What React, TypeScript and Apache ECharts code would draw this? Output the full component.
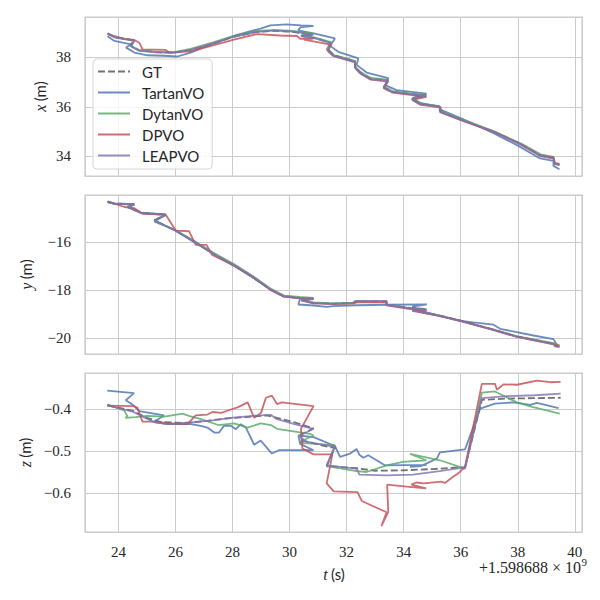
import React, { useEffect, useRef } from "react";
import * as echarts from "echarts";

const methodNames = ["GT", "TartanVO", "DytanVO", "DPVO", "LEAPVO"];
const methodColors = [
  "rgba(60,60,60,0.72)",
  "rgba(76,114,176,0.82)",
  "rgba(85,168,104,0.82)",
  "rgba(196,78,82,0.82)",
  "rgba(129,114,179,0.82)",
];

// ---- x (m) vs t ----
const gtX = [[23.62,38.98],[23.85,38.84],[24.2,38.76],[24.55,38.7],[24.42,38.5],[24.7,38.3],[25.3,38.22],[25.95,38.2],[26.5,38.3],[27.3,38.55],[28.0,38.83],[28.8,39.03],[29.4,39.08],[30.1,39.04],[30.8,38.92],[30.4,38.88],[30.9,38.78],[31.45,38.6],[31.35,38.32],[31.55,38.1],[32.3,37.85],[32.3,37.62],[32.5,37.38],[32.85,37.15],[33.45,37.08],[33.3,36.8],[33.6,36.62],[34.3,36.52],[34.78,36.46],[34.3,36.32],[34.6,36.12],[35.25,36.02],[35.27,35.82],[36.1,35.45],[37.15,35.0],[38.1,34.5],[38.8,34.03],[39.25,33.92],[39.3,33.7],[39.46,33.66]];
const tartanX = [[23.62,38.86],[23.86,38.67],[24.15,38.6],[24.44,38.53],[24.27,38.4],[24.56,38.2],[25.02,38.09],[25.6,38.07],[26.07,38.04],[26.53,38.2],[27.35,38.58],[28.16,38.92],[28.98,39.17],[29.33,39.3],[29.9,39.34],[30.4,39.3],[30.84,39.28],[30.38,39.22],[30.3,39.1],[30.85,38.98],[31.59,38.77],[31.42,38.47],[31.71,38.23],[32.41,37.96],[32.35,37.7],[32.7,37.39],[33.46,37.16],[33.35,36.88],[33.75,36.68],[34.8,36.54],[34.3,36.35],[34.6,36.15],[35.27,36.0],[35.27,35.9],[36.09,35.5],[37.15,34.93],[38.02,34.42],[38.78,33.91],[39.25,33.81],[39.25,33.61],[39.46,33.47]];
const dytanX = [[23.62,38.95],[23.86,38.82],[24.3,38.74],[24.56,38.69],[24.44,38.47],[24.73,38.29],[25.3,38.24],[25.95,38.22],[26.53,38.35],[27.35,38.62],[28.05,38.88],[28.86,39.08],[29.5,39.12],[30.1,39.08],[30.84,38.97],[30.4,38.9],[30.9,38.8],[31.45,38.62],[31.35,38.34],[31.55,38.1],[32.3,37.86],[32.3,37.63],[32.5,37.4],[32.85,37.17],[33.45,37.1],[33.3,36.82],[33.6,36.64],[34.3,36.54],[34.8,36.48],[34.3,36.34],[34.6,36.14],[35.25,36.03],[35.27,35.84],[36.1,35.47],[37.15,35.02],[38.1,34.52],[38.8,34.08],[39.25,33.97],[39.3,33.72],[39.46,33.64]];
const dpvoX = [[23.62,38.95],[24.2,38.75],[24.56,38.71],[24.73,38.6],[24.85,38.33],[25.66,38.31],[25.78,38.2],[26.53,38.25],[27.35,38.5],[28.05,38.72],[28.86,38.95],[29.67,38.89],[30.26,38.87],[30.37,38.76],[30.84,38.76],[30.5,38.72],[31.45,38.52],[31.35,38.25],[31.55,38.05],[32.3,37.8],[32.3,37.58],[32.5,37.34],[32.85,37.1],[33.45,37.02],[33.3,36.76],[33.6,36.58],[34.3,36.48],[34.8,36.4],[34.3,36.28],[34.6,36.08],[35.3,35.98],[35.3,35.78],[36.1,35.42],[37.15,35.0],[38.1,34.48],[38.8,34.02],[39.25,33.95],[39.3,33.72],[39.46,33.7]];
const leapX = [[23.63,38.97],[23.86,38.82],[24.2,38.74],[24.56,38.67],[24.44,38.45],[24.73,38.27],[25.3,38.21],[25.95,38.19],[26.53,38.31],[27.35,38.57],[28.05,38.84],[28.86,39.04],[29.44,39.09],[30.14,39.05],[30.84,38.93],[30.4,38.87],[30.9,38.77],[31.42,38.58],[31.3,38.32],[31.53,38.07],[32.29,37.82],[32.29,37.6],[32.47,37.36],[32.82,37.12],[33.46,37.05],[33.29,36.78],[33.58,36.61],[34.28,36.51],[34.78,36.45],[34.28,36.31],[34.57,36.11],[35.27,36.01],[35.27,35.8],[36.09,35.43],[37.15,34.99],[38.08,34.49],[38.78,34.01],[39.25,33.9],[39.3,33.68],[39.46,33.64]];

// ---- y (m) vs t ----
const gtY = [[23.62,-14.32],[23.86,-14.39],[24.56,-14.42],[24.33,-14.53],[24.79,-14.77],[25.66,-14.85],[25.26,-15.09],[26.0,-15.5],[26.65,-15.97],[27.35,-16.49],[28.05,-16.95],[28.74,-17.47],[29.33,-17.96],[29.8,-18.24],[30.37,-18.31],[30.84,-18.34],[30.4,-18.4],[30.83,-18.52],[31.53,-18.55],[32.23,-18.52],[32.35,-18.46],[33.4,-18.46],[33.4,-18.6],[34.22,-18.73],[34.8,-18.78],[34.3,-18.8],[34.81,-18.94],[35.27,-19.05],[36.09,-19.29],[37.15,-19.64],[37.96,-19.92],[39.25,-20.22],[39.3,-20.3],[39.46,-20.34]];
const tartanY = [[23.62,-14.3],[23.86,-14.38],[24.56,-14.41],[24.33,-14.52],[24.79,-14.76],[25.66,-14.84],[25.26,-15.08],[26.0,-15.52],[26.65,-15.99],[27.35,-16.5],[28.05,-16.97],[28.74,-17.49],[29.33,-17.97],[29.8,-18.25],[30.37,-18.33],[30.31,-18.59],[30.84,-18.63],[31.3,-18.69],[31.53,-18.66],[32.35,-18.62],[33.4,-18.6],[34.81,-18.58],[34.3,-18.68],[34.81,-18.92],[35.27,-19.07],[36.09,-19.28],[36.44,-19.33],[37.15,-19.43],[37.38,-19.6],[38.55,-19.88],[39.25,-20.03],[39.37,-20.27]];
const dytanY = [[23.62,-14.33],[23.86,-14.4],[24.56,-14.43],[24.33,-14.54],[24.79,-14.78],[25.66,-14.86],[25.26,-15.14],[26.0,-15.49],[26.65,-15.94],[27.35,-16.45],[28.05,-16.9],[28.74,-17.42],[29.33,-17.92],[29.8,-18.22],[30.36,-18.27],[30.83,-18.31],[30.4,-18.38],[30.83,-18.5],[31.53,-18.54],[32.23,-18.51],[32.35,-18.46],[33.4,-18.47],[33.4,-18.6],[34.22,-18.74],[34.8,-18.79],[34.3,-18.81],[34.81,-18.95],[35.27,-19.05],[36.09,-19.3],[37.15,-19.63],[37.96,-19.91],[39.25,-20.2],[39.46,-20.28]];
const dpvoY = [[23.62,-14.32],[23.86,-14.39],[24.21,-14.53],[24.56,-14.58],[24.85,-14.81],[25.66,-14.85],[26.01,-15.51],[26.48,-15.54],[26.71,-16.11],[27.09,-16.11],[27.29,-16.53],[28.05,-16.97],[28.74,-17.47],[29.33,-17.98],[29.8,-18.26],[30.37,-18.33],[30.84,-18.36],[30.4,-18.42],[30.83,-18.54],[31.53,-18.57],[32.23,-18.55],[32.35,-18.5],[33.4,-18.5],[33.4,-18.63],[34.22,-18.78],[34.81,-18.82],[34.3,-18.85],[34.81,-18.97],[35.27,-19.06],[36.09,-19.3],[37.15,-19.65],[37.96,-19.93],[39.25,-20.24],[39.46,-20.32]];
const leapY = [[23.63,-14.32],[23.86,-14.4],[24.56,-14.43],[24.33,-14.54],[24.79,-14.78],[25.66,-14.86],[25.26,-15.1],[26.0,-15.51],[26.65,-15.98],[27.35,-16.5],[28.05,-16.96],[28.74,-17.48],[29.33,-17.97],[29.8,-18.25],[30.37,-18.32],[30.84,-18.35],[30.4,-18.41],[30.83,-18.53],[31.53,-18.56],[32.23,-18.52],[32.3,-18.44],[33.4,-18.44],[33.4,-18.6],[34.22,-18.75],[34.8,-18.8],[34.3,-18.82],[34.81,-18.96],[35.27,-19.07],[36.09,-19.31],[37.15,-19.66],[37.96,-19.94],[39.25,-20.25],[39.3,-20.33],[39.46,-20.36]];

// ---- z (m) vs t ----
const gtZ = [[23.62,-0.39],[24.5,-0.403],[25.0,-0.42],[25.5,-0.43],[26.3,-0.432],[27.0,-0.428],[27.7,-0.422],[28.5,-0.418],[29.2,-0.414],[29.56,-0.42],[30.14,-0.43],[30.84,-0.445],[30.38,-0.46],[30.5,-0.475],[31.4,-0.49],[31.6,-0.49],[31.3,-0.535],[32.35,-0.54],[33.0,-0.546],[34.0,-0.545],[35.0,-0.542],[35.95,-0.538],[36.15,-0.538],[36.74,-0.377],[37.6,-0.374],[38.5,-0.373],[39.5,-0.372]];
const tartanZ = [[23.61,-0.355],[24.55,-0.361],[24.26,-0.378],[24.49,-0.388],[24.73,-0.404],[25.6,-0.414],[25.25,-0.43],[25.72,-0.435],[26.54,-0.435],[26.89,-0.439],[27.12,-0.443],[27.36,-0.455],[27.53,-0.455],[27.7,-0.439],[27.94,-0.439],[28.12,-0.447],[28.29,-0.435],[28.47,-0.443],[28.76,-0.484],[28.99,-0.474],[29.38,-0.505],[29.62,-0.497],[30.14,-0.497],[30.84,-0.497],[30.37,-0.482],[30.31,-0.462],[30.84,-0.466],[31.59,-0.487],[31.77,-0.513],[32.12,-0.505],[32.35,-0.494],[32.45,-0.508],[32.58,-0.515],[32.76,-0.509],[33.34,-0.533],[34.8,-0.532],[34.22,-0.537],[34.6,-0.535],[35.16,-0.517],[35.27,-0.502],[36.15,-0.495],[36.68,-0.398],[37.2,-0.386],[37.85,-0.383],[38.44,-0.389],[38.67,-0.384],[39.43,-0.397]];
const dytanZ = [[23.61,-0.388],[24.2,-0.402],[24.32,-0.416],[24.25,-0.42],[24.6,-0.418],[25.0,-0.415],[25.6,-0.417],[26.25,-0.41],[26.5,-0.416],[26.9,-0.423],[27.5,-0.437],[28.06,-0.433],[28.53,-0.443],[28.99,-0.433],[29.35,-0.437],[29.56,-0.446],[30.14,-0.452],[30.72,-0.458],[30.84,-0.462],[30.37,-0.477],[30.5,-0.48],[31.59,-0.485],[31.3,-0.535],[32.35,-0.547],[32.7,-0.549],[33.4,-0.533],[33.98,-0.525],[34.79,-0.521],[34.22,-0.506],[35.27,-0.521],[36.15,-0.541],[36.74,-0.36],[37.2,-0.357],[37.97,-0.383],[38.5,-0.394],[39.47,-0.41]];
const dpvoZ = [[23.61,-0.391],[24.55,-0.392],[24.67,-0.396],[24.84,-0.429],[25.37,-0.429],[25.72,-0.433],[26.42,-0.435],[26.71,-0.414],[27.12,-0.412],[27.3,-0.406],[27.6,-0.408],[27.94,-0.4],[28.18,-0.395],[28.53,-0.383],[28.76,-0.42],[29.0,-0.408],[29.17,-0.372],[29.38,-0.367],[29.56,-0.387],[29.73,-0.383],[30.84,-0.392],[30.4,-0.446],[30.45,-0.493],[30.84,-0.507],[31.5,-0.507],[31.3,-0.576],[31.55,-0.595],[32.38,-0.597],[32.53,-0.618],[33.4,-0.645],[33.22,-0.678],[33.46,-0.644],[33.42,-0.579],[34.1,-0.584],[34.79,-0.588],[34.27,-0.579],[34.44,-0.574],[34.7,-0.576],[35.31,-0.572],[35.45,-0.575],[35.66,-0.564],[35.95,-0.55],[36.15,-0.537],[36.74,-0.339],[37.2,-0.339],[37.27,-0.353],[37.5,-0.34],[37.97,-0.341],[38.67,-0.331],[39.14,-0.335],[39.5,-0.334]];
const leapZ = [[23.61,-0.39],[24.5,-0.405],[25.25,-0.43],[25.72,-0.435],[26.54,-0.431],[27.3,-0.426],[27.94,-0.42],[28.7,-0.415],[29.35,-0.413],[29.56,-0.423],[30.14,-0.434],[30.84,-0.446],[30.37,-0.462],[30.45,-0.475],[31.0,-0.482],[31.59,-0.489],[31.3,-0.533],[32.35,-0.541],[32.45,-0.555],[33.4,-0.557],[34.33,-0.555],[35.26,-0.547],[35.95,-0.54],[36.15,-0.539],[36.74,-0.373],[37.62,-0.368],[38.6,-0.366],[39.5,-0.362]];

const panelData = [
  [gtX, tartanX, dytanX, dpvoX, leapX],
  [gtY, tartanY, dytanY, dpvoY, leapY],
  [gtZ, tartanZ, dytanZ, dpvoZ, leapZ],
];

const tRange = [22.83, 40.25];
const yRanges = [[33.2, 39.64], [-20.65, -14.03], [-0.692, -0.313]];
const yTickSteps = [2, 2, 0.1];
const yNames = ["x", "y", "z"];
const offsetMantissa = "+1.598688 \u00d7 10";
const offsetExponent = "9";

const gridTops = [17, 195, 373];
const gridH = 159;
const gridColor = "#cccccc";
const textColor = "#262626";

function fmtTick(v: number, step: number): string {
  const k = v / step;
  if (Math.abs(k - Math.round(k)) > 1e-6) return "";
  const r = Math.round(k) * step;
  const s = step < 1 ? r.toFixed(1) : String(Math.round(r));
  return s.replace("-", "\u2212");
}

export default function App() {
  const ref = useRef<HTMLDivElement>(null);
  useEffect(() => {
    if (!ref.current) return;
    const chart = echarts.init(ref.current, undefined, { renderer: "svg" });
    const grids = gridTops.map((top) => ({
      left: 85,
      right: 18,
      top,
      height: gridH,
      show: true,
      borderColor: gridColor,
      borderWidth: 1.25,
      backgroundColor: "transparent",
      containLabel: false,
    }));
    const xAxes = gridTops.map((_, i) => ({
      type: "value",
      gridIndex: i,
      min: tRange[0],
      max: tRange[1],
      minInterval: 2,
      maxInterval: 2,
      splitNumber: 8,
      axisLine: { show: false },
      axisTick: { show: false },
      splitLine: { show: true, lineStyle: { color: gridColor, width: 1 } },
      axisLabel: {
        show: i === 2,
        margin: 12,
        color: textColor,
        fontFamily: "Liberation Serif",
        fontSize: 15,
        formatter: (v: number) => fmtTick(v, 2),
      },
    }));
    const yAxes = gridTops.map((_, i) => ({
      type: "value",
      gridIndex: i,
      min: yRanges[i][0],
      max: yRanges[i][1],
      minInterval: yTickSteps[i],
      maxInterval: yTickSteps[i],
      splitNumber: 3,
      axisLine: { show: false },
      axisTick: { show: false },
      splitLine: { show: true, lineStyle: { color: gridColor, width: 1 } },
      axisLabel: {
        margin: 14,
        color: textColor,
        fontFamily: "Liberation Serif",
        fontSize: 15,
        formatter: (v: number) => fmtTick(v, yTickSteps[i]),
      },
    }));
    const series: any[] = [];
    panelData.forEach((sets, p) => {
      sets.forEach((data, m) => {
        series.push({
          type: "line",
          name: methodNames[m],
          xAxisIndex: p,
          yAxisIndex: p,
          data,
          symbol: "none",
          showSymbol: false,
          silent: true,
          lineStyle: {
            color: methodColors[m],
            width: 1.8,
            type: m === 0 ? [7, 3] : "solid",
          },
          itemStyle: { color: methodColors[m] },
          emphasis: { disabled: true },
        });
      });
    });
    const yLabelPos = [
      [40, gridTops[0] + gridH / 2],
      [26, gridTops[1] + gridH / 2],
      [25, gridTops[2] + gridH / 2],
    ];
    const graphics: any[] = yNames.map((n, i) => ({
      type: "text",
      x: yLabelPos[i][0],
      y: yLabelPos[i][1],
      rotation: Math.PI / 2,
      style: {
        text: `{i|${n}} {s|(m)}`,
        align: "center",
        verticalAlign: "middle",
        rich: {
          i: { fontFamily: "Liberation Serif", fontStyle: "italic", fontSize: 16, fill: textColor },
          s: { fontFamily: "Lato", fontSize: 15, fill: textColor },
        },
      },
    }));
    graphics.push({
      type: "text",
      x: 334,
      y: 574,
      style: {
        text: "{i|t} {s|(s)}",
        align: "center",
        verticalAlign: "middle",
        rich: {
          i: { fontFamily: "Liberation Serif", fontStyle: "italic", fontSize: 16, fill: textColor },
          s: { fontFamily: "Lato", fontSize: 15, fill: textColor },
        },
      },
    });
    graphics.push({
      type: "text",
      x: 581,
      y: 567,
      style: {
        text: offsetMantissa,
        align: "right",
        verticalAlign: "middle",
        fontFamily: "Liberation Serif",
        fontSize: 16,
        fill: textColor,
      },
    });
    graphics.push({
      type: "text",
      x: 581.5,
      y: 562,
      style: {
        text: offsetExponent,
        align: "left",
        verticalAlign: "middle",
        fontFamily: "Liberation Serif",
        fontSize: 11,
        fill: textColor,
      },
    });
    chart.setOption({
      animation: false,
      backgroundColor: "#ffffff",
      grid: grids,
      xAxis: xAxes,
      yAxis: yAxes,
      legend: {
        data: methodNames,
        orient: "vertical",
        left: 93,
        top: 59,
        padding: [5, 8, 6, 4],
        itemGap: 6,
        itemWidth: 32,
        itemHeight: 14,
        selectedMode: false,
        itemStyle: { opacity: 0 },
        backgroundColor: "rgba(255,255,255,0.8)",
        borderColor: "#d6d6d6",
        borderWidth: 1,
        borderRadius: 4,
        textStyle: {
          fontFamily: "Lato",
          fontSize: 15,
          color: textColor,
          padding: [0, 0, 0, 7],
        },
      },
      graphic: graphics,
      series,
    });
    return () => chart.dispose();
  }, []);
  return (
    <div
      ref={ref}
      style={{ position: "absolute", left: 0, top: 0, width: 600, height: 600 }}
    />
  );
}
